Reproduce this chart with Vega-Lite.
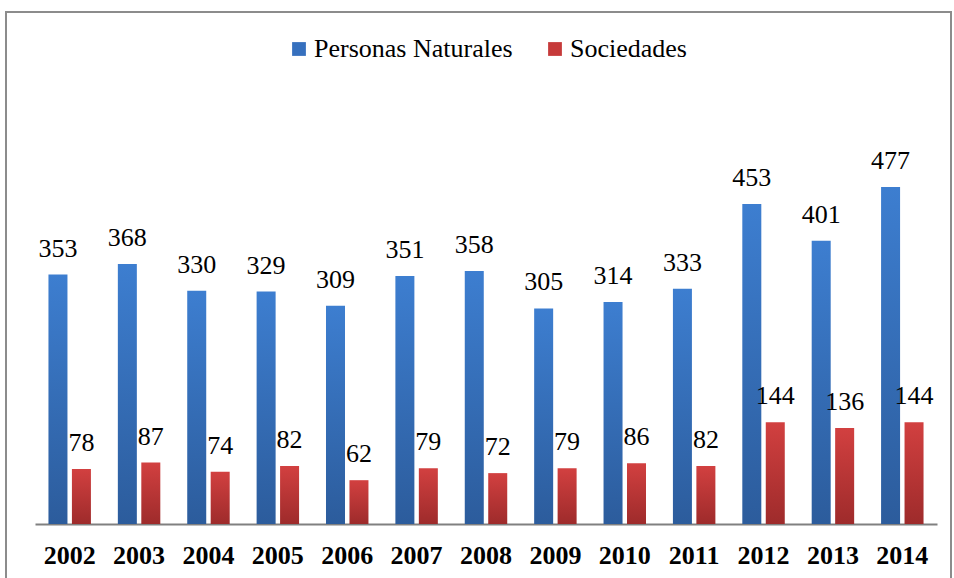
{
  "$schema": "https://vega.github.io/schema/vega-lite/v6.json",
  "width": 945,
  "height": 570,
  "autosize": {"type": "none"},
  "padding": {"left": 6, "top": 12, "right": 3, "bottom": 0},
  "background": "#ffffff",
  "title": {
    "text": "Santa Catalina: 2006 - 2014",
    "anchor": "start",
    "frame": "group",
    "font": "'Liberation Serif', 'Times New Roman', Times, serif",
    "fontSize": 26,
    "fontWeight": "bold",
    "color": "#000000",
    "baseline": "alphabetic",
    "offset": 2,
    "dx": 2,
    "dy": 8
  },
  "data": {
    "values": [
      {"anio": "2002", "serie": "Personas Naturales", "valor": 353},
      {"anio": "2003", "serie": "Personas Naturales", "valor": 368},
      {"anio": "2004", "serie": "Personas Naturales", "valor": 330},
      {"anio": "2005", "serie": "Personas Naturales", "valor": 329},
      {"anio": "2006", "serie": "Personas Naturales", "valor": 309},
      {"anio": "2007", "serie": "Personas Naturales", "valor": 351},
      {"anio": "2008", "serie": "Personas Naturales", "valor": 358},
      {"anio": "2009", "serie": "Personas Naturales", "valor": 305},
      {"anio": "2010", "serie": "Personas Naturales", "valor": 314},
      {"anio": "2011", "serie": "Personas Naturales", "valor": 333},
      {"anio": "2012", "serie": "Personas Naturales", "valor": 453},
      {"anio": "2013", "serie": "Personas Naturales", "valor": 401},
      {"anio": "2014", "serie": "Personas Naturales", "valor": 477},
      {"anio": "2002", "serie": "Sociedades", "valor": 78},
      {"anio": "2003", "serie": "Sociedades", "valor": 87},
      {"anio": "2004", "serie": "Sociedades", "valor": 74},
      {"anio": "2005", "serie": "Sociedades", "valor": 82},
      {"anio": "2006", "serie": "Sociedades", "valor": 62},
      {"anio": "2007", "serie": "Sociedades", "valor": 79},
      {"anio": "2008", "serie": "Sociedades", "valor": 72},
      {"anio": "2009", "serie": "Sociedades", "valor": 79},
      {"anio": "2010", "serie": "Sociedades", "valor": 86},
      {"anio": "2011", "serie": "Sociedades", "valor": 82},
      {"anio": "2012", "serie": "Sociedades", "valor": 144},
      {"anio": "2013", "serie": "Sociedades", "valor": 136},
      {"anio": "2014", "serie": "Sociedades", "valor": 144}
    ]
  },
  "encoding": {
    "x": {
      "field": "anio",
      "type": "nominal",
      "scale": {"range": [29, 931], "paddingInner": 0.388, "paddingOuter": 0.194},
      "axis": {
        "orient": "bottom",
        "offset": -58,
        "title": null,
        "ticks": false,
        "labelAngle": 0,
        "domainColor": "#808080",
        "domainWidth": 2,
        "labelFont": "'Liberation Serif', 'Times New Roman', Times, serif",
        "labelFontSize": 26,
        "labelFontWeight": "bold",
        "labelColor": "#000000",
        "labelPadding": 18
      }
    },
    "xOffset": {
      "field": "serie",
      "type": "nominal",
      "scale": {"domain": ["Personas Naturales", "Sociedades"], "paddingInner": 0.19, "paddingOuter": 0}
    },
    "y": {
      "field": "valor",
      "type": "quantitative",
      "scale": {"domain": [0, 600], "range": [512, 88], "nice": false, "zero": true},
      "axis": null
    }
  },
  "layer": [
    {
      "mark": {"type": "bar", "strokeWidth": 0},
      "encoding": {
        "fill": {
          "condition": {
            "test": "datum.serie === 'Sociedades'",
            "value": {"gradient": "linear", "x1": 0, "y1": 0, "x2": 0, "y2": 1, "stops": [{"offset": 0, "color": "#d24040"}, {"offset": 1, "color": "#9e2b2b"}]}
          },
          "value": {"gradient": "linear", "x1": 0, "y1": 0, "x2": 0, "y2": 1, "stops": [{"offset": 0, "color": "#3d7ed0"}, {"offset": 1, "color": "#2c5c9c"}]}
        }
      }
    },
    {
      "mark": {"type": "square", "opacity": 0, "size": 10},
      "encoding": {
        "color": {
          "field": "serie",
          "type": "nominal",
          "scale": {"domain": ["Personas Naturales", "Sociedades"], "range": ["#3670be", "#c63a3a"]},
          "legend": {
            "title": null,
            "orient": "none",
            "legendX": 280,
            "legendY": 24,
            "direction": "horizontal",
            "symbolType": "square",
            "symbolSize": 190,
            "symbolOpacity": 1,
            "symbolStrokeWidth": 0,
            "labelFont": "'Liberation Serif', 'Times New Roman', Times, serif",
            "labelFontSize": 26,
            "labelColor": "#000000",
            "labelOffset": 2,
            "columnPadding": 29,
            "labelLimit": 400
          }
        }
      }
    },
    {
      "mark": {"type": "text", "dy": -18, "baseline": "alphabetic", "font": "'Liberation Serif', 'Times New Roman', Times, serif", "fontSize": 26, "color": "#000000"},
      "encoding": {"text": {"field": "valor", "type": "quantitative"}}
    }
  ],
  "config": {
    "view": {"stroke": "#8c8c8c", "strokeWidth": 2}
  }
}
